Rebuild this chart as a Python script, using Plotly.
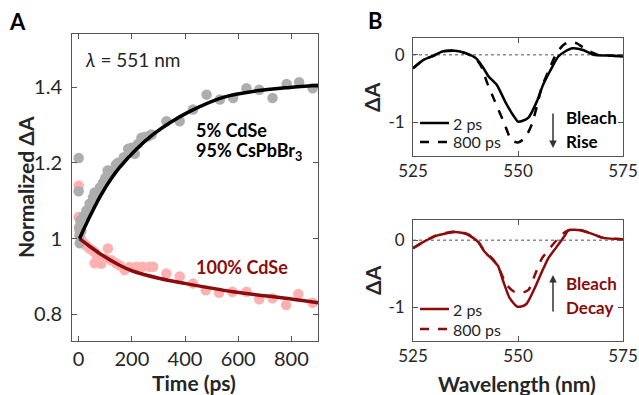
import plotly.graph_objects as go

W, H = 639, 395
FONT = "Lato"
DARKRED = "#8C0B0B"
PINK = "#FFB0B0"
GRAY = "#ADADAD"
TXT = "#262626"

# ---------------- Panel A data ----------------
gray_t = [0, 0, 2, 3, 4, 6, 10, 20, 29, 41, 54, 60, 66, 80, 92, 100, 109, 114, 125, 140, 148, 154,
          170, 186, 200, 211, 223, 236, 248, 262, 274, 330, 380, 430, 481, 531, 581, 631, 679,
          729, 782, 829, 880]
gray_v = [1.213, 1.125, 1.03, 1.009, 0.988, 1.048, 1.02, 1.06, 1.074, 1.092, 1.109, 1.122, 1.12,
          1.135, 1.148, 1.16, 1.18, 1.179, 1.175, 1.195, 1.20, 1.20, 1.215, 1.237, 1.24, 1.224,
          1.25, 1.266, 1.268, 1.27, 1.275, 1.31, 1.31, 1.341, 1.38, 1.367, 1.371, 1.397, 1.393,
          1.371, 1.408, 1.413, 1.397]

pink_t = [0, 0, 2, 8, 16, 29, 41, 50, 60, 60, 70, 79, 85, 100, 110, 123, 140, 154, 173, 190,
          217, 240, 267, 280, 330, 380, 430, 478, 528, 578, 631, 679, 729, 780, 826, 880]
pink_v = [1.14, 1.057, 1.022, 1.0, 0.99, 0.982, 0.974, 0.97, 0.965, 0.935, 0.95, 0.943, 0.934,
          0.948, 0.974, 0.943, 0.935, 0.93, 0.917, 0.925, 0.926, 0.926, 0.926, 0.926, 0.908,
          0.90, 0.882, 0.864, 0.857, 0.86, 0.86, 0.84, 0.843, 0.825, 0.854, 0.831]

fitA_t = [3, 41, 79, 117, 154, 217, 280, 343, 418, 543, 669, 794, 900]
fitA_v = [1.0, 1.057, 1.109, 1.153, 1.188, 1.236, 1.275, 1.306, 1.336, 1.373, 1.39, 1.399, 1.405]

fitB_t = [3, 41, 79, 154, 205, 305, 399, 581, 800, 900]
fitB_v = [1.0, 0.98, 0.961, 0.93, 0.914, 0.895, 0.882, 0.86, 0.841, 0.831]

a_xticks = [0, 200, 400, 600, 800]
a_yticks = [0.8, 1.0, 1.2, 1.4]
a_yticktext = ["0.8", "1", "1.2", "1.4"]

# ---------------- Panel B data ----------------
top_2ps_wl = [525, 527.5, 530, 532, 535, 537.5, 540, 541.5, 543, 545, 547, 549, 550, 551,
              552.5, 554.5, 556, 558, 559.6, 561.2, 563, 565.5, 568, 571.5, 575]
top_2ps_v = [-0.2, -0.074, -0.01, 0.05, 0.06, 0.025, -0.05, -0.17, -0.32, -0.45, -0.7, -0.91,
             -0.99, -0.98, -0.93, -0.69, -0.44, -0.196, -0.025, 0.05, 0.098, 0.073, 0.0,
             -0.01, -0.025]

top_800ps_wl = [525, 527.5, 530, 532, 535, 537.5, 540, 541.5, 542.5, 544.5, 546.5, 548.5, 550,
                551.7, 553.3, 554.5, 555.6, 557.2, 559.2, 560.8, 562.4, 564, 566.4, 569,
                571.5, 575]
top_800ps_v = [-0.2, -0.074, -0.01, 0.05, 0.06, 0.025, -0.06, -0.2, -0.39, -0.69, -0.98, -1.27,
               -1.30, -1.23, -1.03, -0.76, -0.49, -0.245, 0.025, 0.147, 0.196, 0.17, 0.074,
               0.0, -0.01, -0.025]

bot_2ps_wl = [525, 527.5, 530.5, 535, 538, 540.5, 542, 544, 545.3, 546.5, 548, 549.7, 550.5,
              552, 554, 555.7, 557.2, 559.2, 561.2, 562, 564.8, 567.5, 570.3, 575]
bot_2ps_v = [-0.12, -0.025, 0.064, 0.123, 0.084, -0.025, -0.17, -0.295, -0.39, -0.615, -0.86,
             -0.985, -0.99, -0.95, -0.71, -0.47, -0.27, -0.1, 0.074, 0.148, 0.148, 0.098,
             0.034, 0.015]

bot_800ps_wl = [525, 527.5, 530.5, 535, 538, 540.5, 542, 544, 545.3, 547.3, 548.9, 550.5,
                552.5, 554, 555.7, 557.2, 559.2, 561.2, 562.5, 564.8, 567.5, 570.3, 575]
bot_800ps_v = [-0.12, -0.025, 0.07, 0.13, 0.09, -0.02, -0.16, -0.28, -0.4, -0.665, -0.76,
               -0.79, -0.74, -0.52, -0.27, -0.15, 0.0, 0.12, 0.155, 0.15, 0.098, 0.034, 0.015]

b_xticks = [525, 550, 575]
b_yticks = [-1, 0]
b_yticktext = ["-1", "0"]
series_names = ["2 ps", "800 ps"]


def px(x):
    return x / W


def py(y):
    return 1 - y / H


fig = go.Figure()

# Panel A
fig.add_trace(go.Scatter(x=pink_t, y=pink_v, mode="markers", xaxis="x", yaxis="y",
                         marker=dict(color=PINK, size=10.5, line=dict(width=0)), showlegend=False))
fig.add_trace(go.Scatter(x=gray_t, y=gray_v, mode="markers", xaxis="x", yaxis="y",
                         marker=dict(color=GRAY, size=10.5, line=dict(width=0)), showlegend=False))
fig.add_trace(go.Scatter(x=fitB_t, y=fitB_v, mode="lines", xaxis="x", yaxis="y",
                         line=dict(color=DARKRED, width=3.5, shape="spline", smoothing=0.8),
                         showlegend=False))
fig.add_trace(go.Scatter(x=fitA_t, y=fitA_v, mode="lines", xaxis="x", yaxis="y",
                         line=dict(color="black", width=3.5, shape="spline", smoothing=0.8),
                         showlegend=False))

# Panel B top
fig.add_trace(go.Scatter(x=top_800ps_wl, y=top_800ps_v, mode="lines", xaxis="x2", yaxis="y2",
                         name=series_names[1],
                         line=dict(color="black", width=2.5, dash="dash", shape="spline", smoothing=0.6),
                         showlegend=False))
fig.add_trace(go.Scatter(x=top_2ps_wl, y=top_2ps_v, mode="lines", xaxis="x2", yaxis="y2",
                         name=series_names[0],
                         line=dict(color="black", width=2.5, shape="spline", smoothing=0.6),
                         showlegend=False))
# Panel B bottom
fig.add_trace(go.Scatter(x=bot_800ps_wl, y=bot_800ps_v, mode="lines", xaxis="x3", yaxis="y3",
                         name=series_names[1],
                         line=dict(color=DARKRED, width=2.5, dash="dash", shape="spline", smoothing=0.6),
                         showlegend=False))
fig.add_trace(go.Scatter(x=bot_2ps_wl, y=bot_2ps_v, mode="lines", xaxis="x3", yaxis="y3",
                         name=series_names[0],
                         line=dict(color=DARKRED, width=2.5, shape="spline", smoothing=0.6),
                         showlegend=False))

axis_common = dict(showgrid=False, zeroline=False, showline=True, mirror="ticks",
                   linecolor="#555555", linewidth=1, ticks="inside", ticklen=5,
                   tickcolor="#555555", tickwidth=1, automargin=False)

fig.update_layout(
    width=W, height=H,
    margin=dict(l=0, r=0, t=0, b=0, autoexpand=False),
    paper_bgcolor="white", plot_bgcolor="white",
    font=dict(family=FONT, color=TXT),
    xaxis=dict(domain=[px(72), px(318)], range=[-25, 900], tickvals=a_xticks,
               tickfont=dict(size=20, color=TXT), anchor="y", **axis_common),
    yaxis=dict(domain=[py(341), py(34)], range=[0.73, 1.54], tickvals=a_yticks,
               ticktext=a_yticktext, tickfont=dict(size=20, color=TXT), anchor="x",
               ticklabelstandoff=5, **axis_common),
    xaxis2=dict(domain=[px(413), px(623)], range=[525, 575], tickvals=b_xticks,
                tickfont=dict(size=17, color=TXT), anchor="y2", **axis_common),
    yaxis2=dict(domain=[py(156), py(38)], range=[-1.5, 0.25], tickvals=b_yticks,
                ticktext=b_yticktext, tickfont=dict(size=17, color=TXT), anchor="x2",
                ticklabelstandoff=4, **axis_common),
    xaxis3=dict(domain=[px(413), px(623)], range=[525, 575], tickvals=b_xticks,
                tickfont=dict(size=17, color=TXT), anchor="y3", **axis_common),
    yaxis3=dict(domain=[py(341), py(220)], range=[-1.5, 0.3], tickvals=b_yticks,
                ticktext=b_yticktext, tickfont=dict(size=17, color=TXT), anchor="x3",
                ticklabelstandoff=4, **axis_common),
)

shapes = []
# dotted zero lines
for xr, yr in (("x2", "y2"), ("x3", "y3")):
    shapes.append(dict(type="line", xref=f"{xr} domain", yref=yr, x0=0, x1=1, y0=0, y1=0,
                       line=dict(color="#8A8A8A", width=1.5, dash="dot"), layer="below"))
# legend samples
for (ys, yd, col) in ((123, 142, "black"), (309, 329, DARKRED)):
    shapes.append(dict(type="line", xref="paper", yref="paper", x0=px(420), x1=px(449),
                       y0=py(ys), y1=py(ys), line=dict(color=col, width=2.5)))
    shapes.append(dict(type="line", xref="paper", yref="paper", x0=px(420), x1=px(449),
                       y0=py(yd), y1=py(yd), line=dict(color=col, width=2.5, dash="dash")))
fig.update_layout(shapes=shapes)


def ann(text, x, y, size, color=TXT, bold=False, xanchor="center", angle=0, **kw):
    t = f"<b>{text}</b>" if bold else text
    return dict(text=t, x=px(x), y=py(y), xref="paper", yref="paper", showarrow=False,
                xanchor=xanchor, yanchor="middle", textangle=angle,
                font=dict(family=FONT, size=size, color=color), **kw)


anns = [
    ann("A", 17, 22, 22, "black", True),
    ann("B", 375, 21, 22, "black", True),
    ann("Normalized ΔA", 25, 187, 21, TXT, True, angle=-90),
    ann("Time (ps)", 194, 382, 21, TXT, True),
    ann("ΔA", 372, 97, 21, TXT, True, angle=-90),
    ann("ΔA", 372, 280, 21, TXT, True, angle=-90),
    ann("Wavelength (nm)", 517, 383, 21, TXT, True),
    ann("<i>λ</i> = 551 nm", 83, 59, 19, TXT, False, xanchor="left"),
    ann("5% CdSe", 194, 130, 18, "black", True, xanchor="left"),
    ann("95% CsPbBr<sub>3</sub>", 194, 151, 18, "black", True, xanchor="left"),
    ann("100% CdSe", 194, 267, 18, DARKRED, True, xanchor="left"),
    ann(series_names[0], 451, 123, 16, TXT, False, xanchor="left"),
    ann(series_names[1], 451, 142, 16, TXT, False, xanchor="left"),
    ann(series_names[0], 451, 309, 16, TXT, False, xanchor="left"),
    ann(series_names[1], 451, 329, 16, TXT, False, xanchor="left"),
    ann("Bleach", 564, 117, 17, "black", True, xanchor="left"),
    ann("Rise", 564, 142, 17, "black", True, xanchor="left"),
    ann("Bleach", 564, 283, 17, DARKRED, True, xanchor="left"),
    ann("Decay", 564, 307, 17, DARKRED, True, xanchor="left"),
    dict(text="", x=px(553), y=py(148), xref="paper", yref="paper", showarrow=True,
         ax=0, ay=-36, arrowhead=2, arrowsize=1, arrowwidth=1.5, arrowcolor="#333333"),
    dict(text="", x=px(553), y=py(275), xref="paper", yref="paper", showarrow=True,
         ax=0, ay=38, arrowhead=2, arrowsize=1, arrowwidth=1.5, arrowcolor="#333333"),
]
fig.update_layout(annotations=anns)

fig.write_html("out.html", config={"displayModeBar": False},
               post_script="document.body.style.margin='0';")
